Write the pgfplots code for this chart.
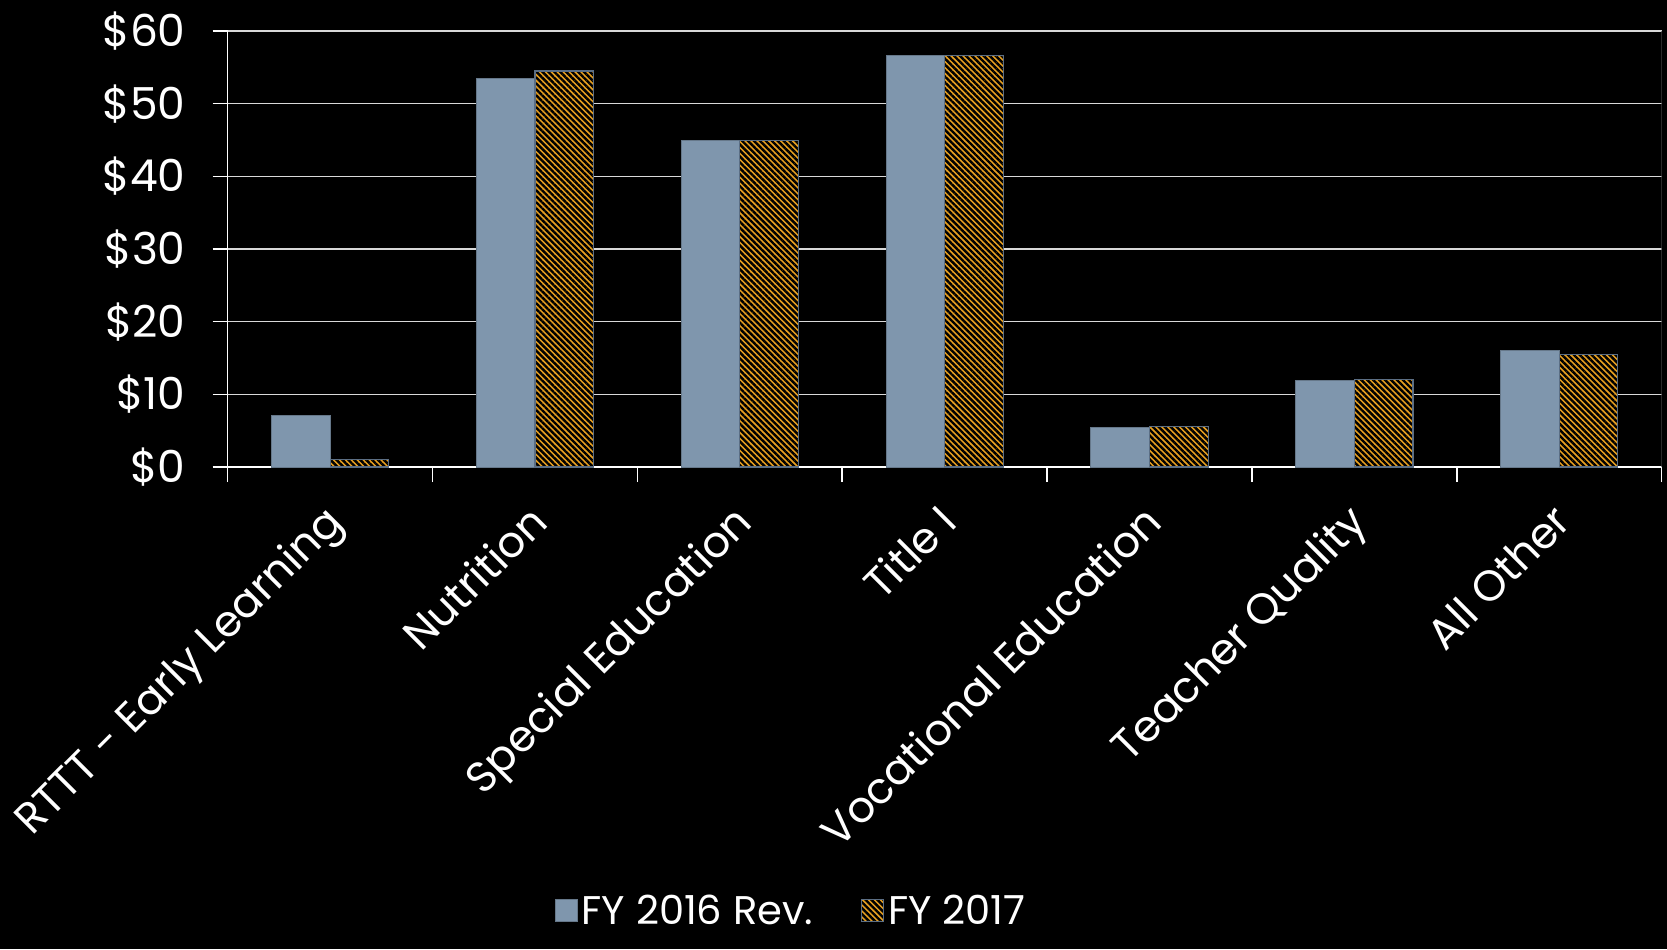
\documentclass[border=0pt]{standalone}
\usepackage{pgfplots}
\pgfplotsset{compat=1.18}
\usepackage{fontspec}
\setmainfont{Poppins}
\usetikzlibrary{patterns.meta,backgrounds}
\definecolor{bluegray}{HTML}{7F96AD}
\definecolor{orng}{HTML}{E8A020}
\definecolor{edge}{HTML}{5B6E84}
\definecolor{gridc}{HTML}{D9D9D9}
\begin{document}
\begin{tikzpicture}[show background rectangle, background rectangle/.style={fill=black,draw=none}, inner frame sep=0pt]
\begin{axis}[
 scale only axis, width=717pt, height=218pt,
 ybar=0pt, bar width=29.3pt,
 xmin=-0.5, xmax=6.5, ymin=0, ymax=60,
 axis x line*=bottom, axis y line*=left,
 axis line style={white, line width=0.8pt},
 tick align=outside,
 major tick length=7.5pt,
 tick style={white, line width=0.8pt},
 ytick={0,10,...,60}, yticklabels={\$0,\$10,\$20,\$30,\$40,\$50,\$60},
 yticklabel style={font=\fontsize{22}{26}\selectfont, text=white, xshift=-10pt},
 xtick={-0.5,0.5,...,6.5}, xticklabels={},
 extra x ticks={0,1,2,3,4,5,6},
 extra x tick labels={RTTT - Early Learning, Nutrition, Special Education, Title I, Vocational Education, Teacher Quality, All Other},
 extra x tick style={major tick length=0pt, xticklabel style={rotate=45, anchor=north east, inner sep=0pt, font=\fontsize{21.5}{25}\selectfont, text=white, xshift=-15pt, yshift=-9pt}},
 ymajorgrids, grid style={gridc, line width=0.75pt},
 legend style={at={(0.3935,-1.018)}, anchor=center, draw=none, fill=none, text=white, font=\fontsize{20}{22}\selectfont, legend columns=2, /tikz/every even column/.append style={column sep=22pt}},
 legend image code/.code={\draw[#1] (0pt,-5.5pt) rectangle (11pt,5.5pt);},
]
\addplot[fill=bluegray, draw=bluegray!80!black, line width=0.5pt] coordinates {(0,7.1)(1,53.5)(2,44.9)(3,56.6)(4,5.5)(5,11.9)(6,16.1)};
\addplot[fill=orng, draw=edge, line width=0.6pt, postaction={pattern={Lines[angle=-45,distance=2.1pt,line width=1.2pt]}, pattern color=black}] coordinates {(0,1.0)(1,54.5)(2,44.9)(3,56.6)(4,5.6)(5,12.0)(6,15.5)};
\legend{FY 2016 Rev., FY 2017}
\draw[white!25!black, line width=0.8pt] (rel axis cs:1,0) -- (rel axis cs:1,1);
\coordinate (O) at (rel axis cs:0,0);
\end{axis}
\pgfresetboundingbox
\path[use as bounding box] ([shift={(-113.85pt,-241pt)}]O) rectangle ([shift={(719.65pt,233.5pt)}]O);
\end{tikzpicture}
\end{document}
